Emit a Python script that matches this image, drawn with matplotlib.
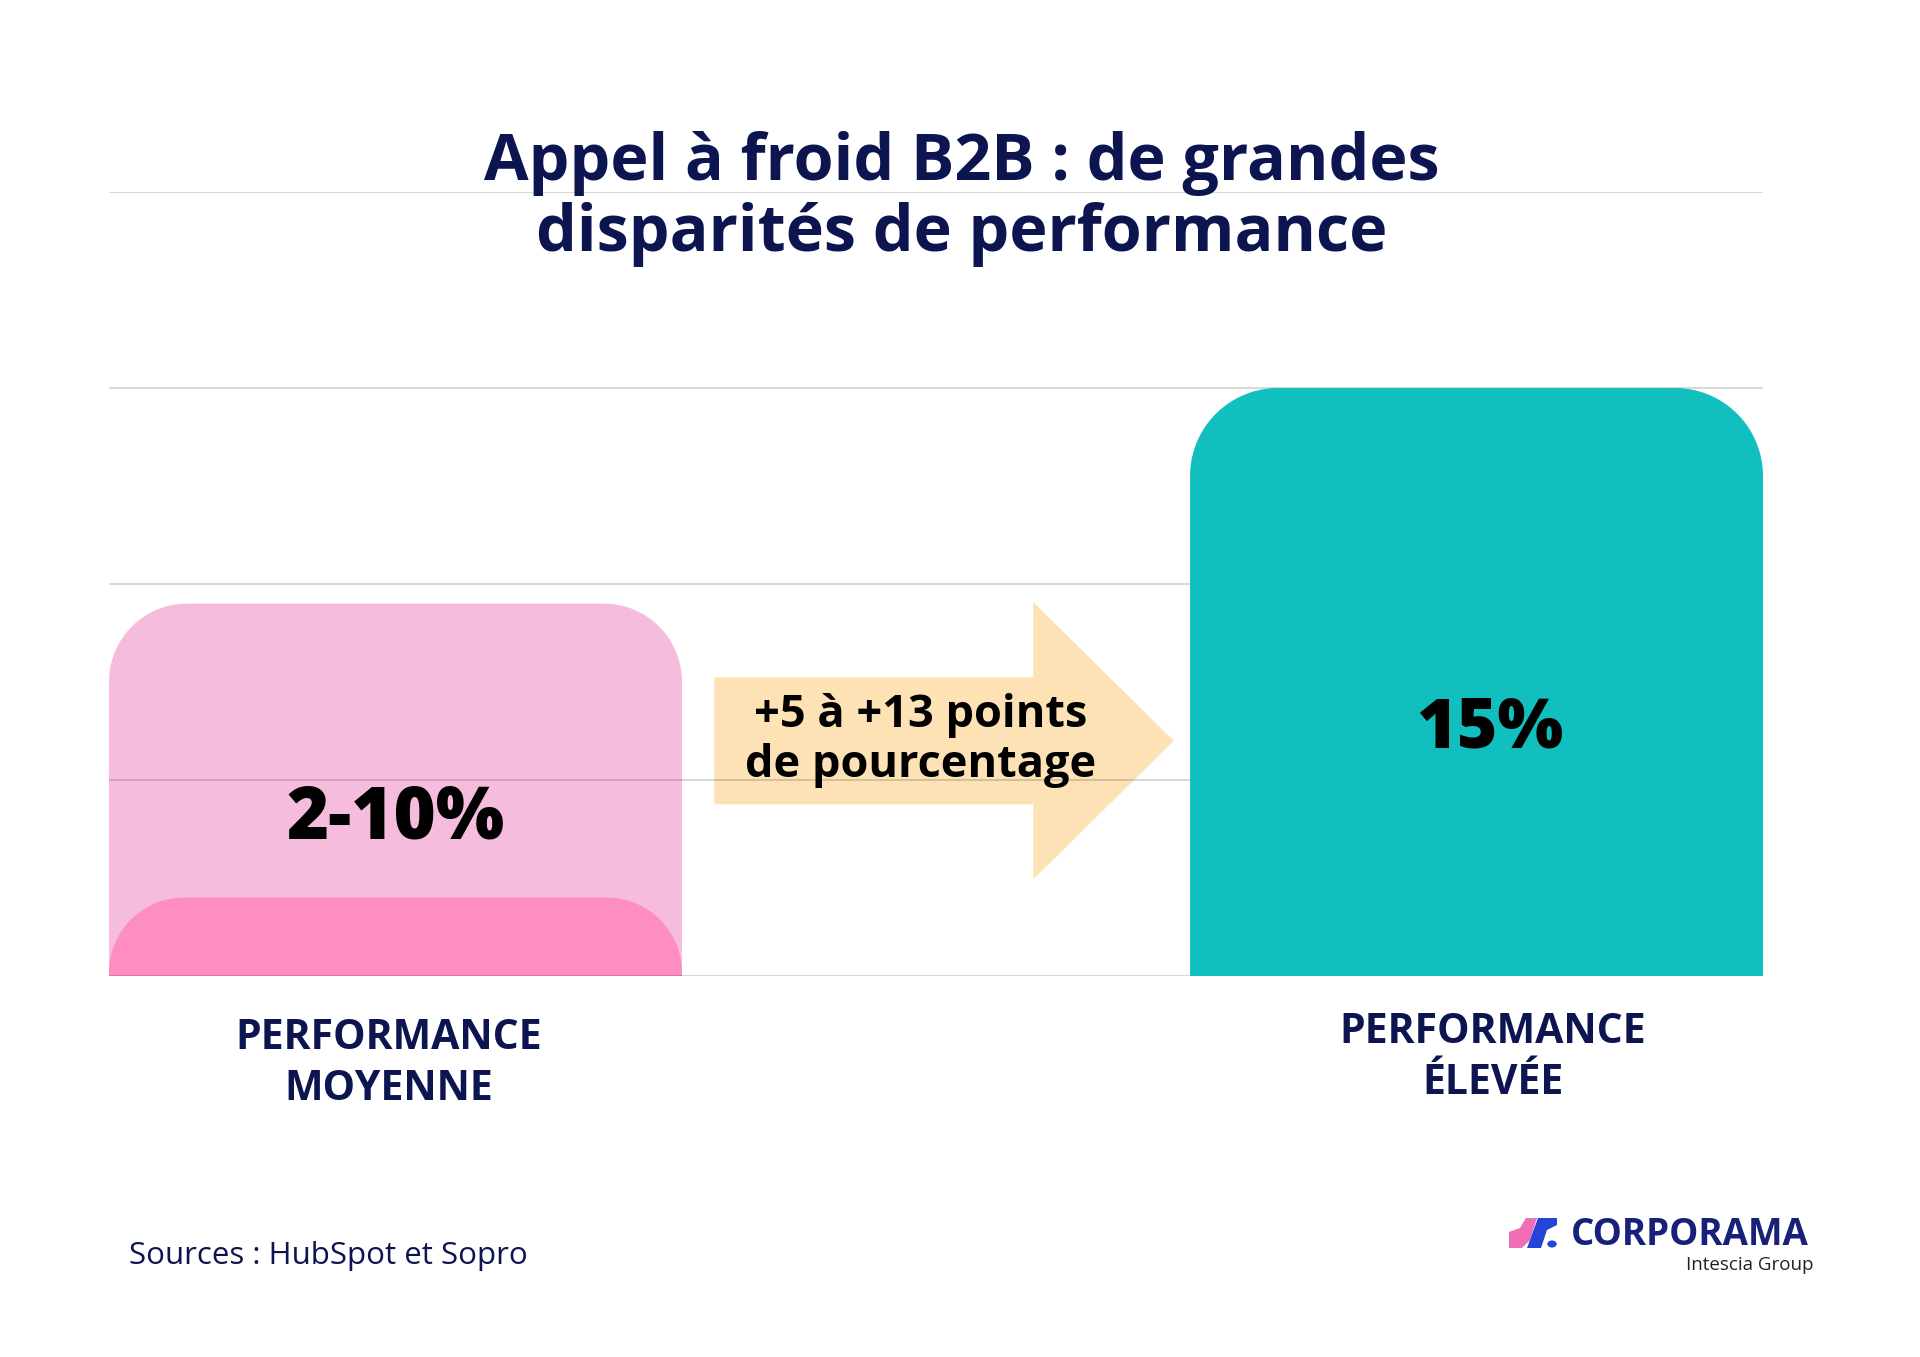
import numpy as np
import matplotlib
matplotlib.use("Agg")
import matplotlib.pyplot as plt
from matplotlib.path import Path
from matplotlib.patches import PathPatch, FancyArrow, Polygon, Circle

# data
categories = [["PERFORMANCE", "MOYENNE"], ["PERFORMANCE", "ÉLEVÉE"]]
value_labels = ["2-10%", "15%"]
low_avg = 2.0      # bas de la fourchette (performance moyenne)
high_avg = 9.5     # haut de la fourchette
high_perf = 15.0
gridlines = [0, 5, 10, 15, 20]
arrow_text = "+5 à +13 points\nde pourcentage"

NAVY = "#0C1550"
TEAL = "#11BFBF"
PINK_LIGHT = "#F5BCDD"
PINK_DARK = "#FF8EC0"
PEACH = "#FDE2B6"

plt.rcParams["font.family"] = ["Open Sans", "DejaVu Sans"]

W, H = 1920, 1357
fig = plt.figure(figsize=(W / 100, H / 100), dpi=100)
ax = fig.add_axes([109 / W, 1 - 976 / H, 1654 / W, 784 / H])
ax.set_xlim(-0.53, 2.53)
ax.set_ylim(0, 20)
ax.axis("off")

xpos = [0, 2]
bar_w = 1.06


def px_per_unit():
    p0 = ax.transData.transform((0, 0))
    p1 = ax.transData.transform((1, 1))
    return p1[0] - p0[0], p1[1] - p0[1]


def rounded_top_bar(x, width, top, r_px, bottom=0.0, **kw):
    sx, sy = px_per_unit()
    h_px = (top - bottom) * sy
    r = min(r_px, h_px)
    rx, ry = r / sx, r / sy
    x0, x1 = x - width / 2, x + width / 2
    t1 = np.linspace(np.pi, np.pi / 2, 30)
    t2 = np.linspace(np.pi / 2, 0, 30)
    verts = [(x0, bottom), (x0, top - ry)]
    verts += [(x0 + rx + rx * np.cos(t), top - ry + ry * np.sin(t)) for t in t1]
    verts += [(x1 - rx + rx * np.cos(t), top - ry + ry * np.sin(t)) for t in t2]
    verts += [(x1, bottom), (x0, bottom)]
    codes = [Path.MOVETO] + [Path.LINETO] * (len(verts) - 2) + [Path.CLOSEPOLY]
    patch = PathPatch(Path(verts, codes), lw=0, **kw)
    ax.add_patch(patch)
    return patch


# barres
rounded_top_bar(xpos[0], bar_w, high_avg, 78, color=PINK_LIGHT, zorder=1)
rounded_top_bar(xpos[0], bar_w, low_avg, 75, color=PINK_DARK, zorder=1.5)
rounded_top_bar(xpos[1], bar_w, high_perf, 88, color=TEAL, zorder=4)

# flèche
ax.add_patch(FancyArrow(0.59, 6.0, 0.85, 0, width=3.24, head_width=7.07,
                        head_length=0.26, length_includes_head=True,
                        color=PEACH, lw=0, zorder=1))

# lignes de grille
for g in gridlines:
    ax.axhline(g, color="black", alpha=0.17, lw=1.3, zorder=2)

# valeurs
ax.text(xpos[0], 3.52, value_labels[0], ha="center", va="baseline",
        fontsize=52, fontweight="heavy", color="black", zorder=5)
ax.text(xpos[1] + 0.024, 5.84, value_labels[1], ha="center", va="baseline",
        fontsize=50, fontweight="heavy", color="black", zorder=5)
ax.text(0.972, 6.0, arrow_text, ha="center", va="center", linespacing=1.15,
        fontsize=32.5, fontweight="bold", color="black", zorder=5)

# catégories
for (x, y0), lines in zip([(-0.013, -1.86), (2.03, -1.71)], categories):
    for i, line in enumerate(lines):
        ax.text(x, y0 - i * 1.3, line, ha="center", va="baseline",
                fontsize=29.5, fontweight="bold", color=NAVY, clip_on=False)

# titre
fig.text(0.501, 1 - 180 / H, "Appel à froid B2B : de grandes", ha="center",
         va="baseline", fontsize=46.5, fontweight="bold", color=NAVY)
fig.text(0.501, 1 - 251 / H, "disparités de performance", ha="center",
         va="baseline", fontsize=46.5, fontweight="bold", color=NAVY)

# source
fig.text(129 / W, 1 - 1264 / H, "Sources : HubSpot et Sopro", ha="left",
         va="baseline", fontsize=22.5, color=NAVY)

# logo
fig.text(1571 / W, 1 - 1245 / H, "CORPORAMA", ha="left", va="baseline",
         fontsize=26.5, fontweight="bold", color="#17217A")
fig.text(1813 / W, 1 - 1270 / H, "Intescia Group", ha="right", va="baseline",
         fontsize=13.5, color="#222222")


def fpts(pts):
    return [(x / W, 1 - y / H) for x, y in pts]


fig.patches.append(Polygon(fpts([(1509, 1248), (1509, 1232), (1520, 1228), (1526, 1218),
                                 (1537, 1218), (1530, 1240), (1522, 1248)]),
                           closed=True, color="#F06EB4", lw=0, transform=fig.transFigure))
fig.patches.append(Polygon(fpts([(1527, 1248), (1538, 1218), (1557, 1218), (1557, 1225),
                                 (1547, 1230), (1541, 1248)]),
                           closed=True, color="#2346D9", lw=0, transform=fig.transFigure))
fig.patches.append(Circle((1552 / W, 1 - 1244 / H), 4 / W, color="#2346D9",
                          transform=fig.transFigure))

fig.savefig("out.png", dpi=100, facecolor="white")
